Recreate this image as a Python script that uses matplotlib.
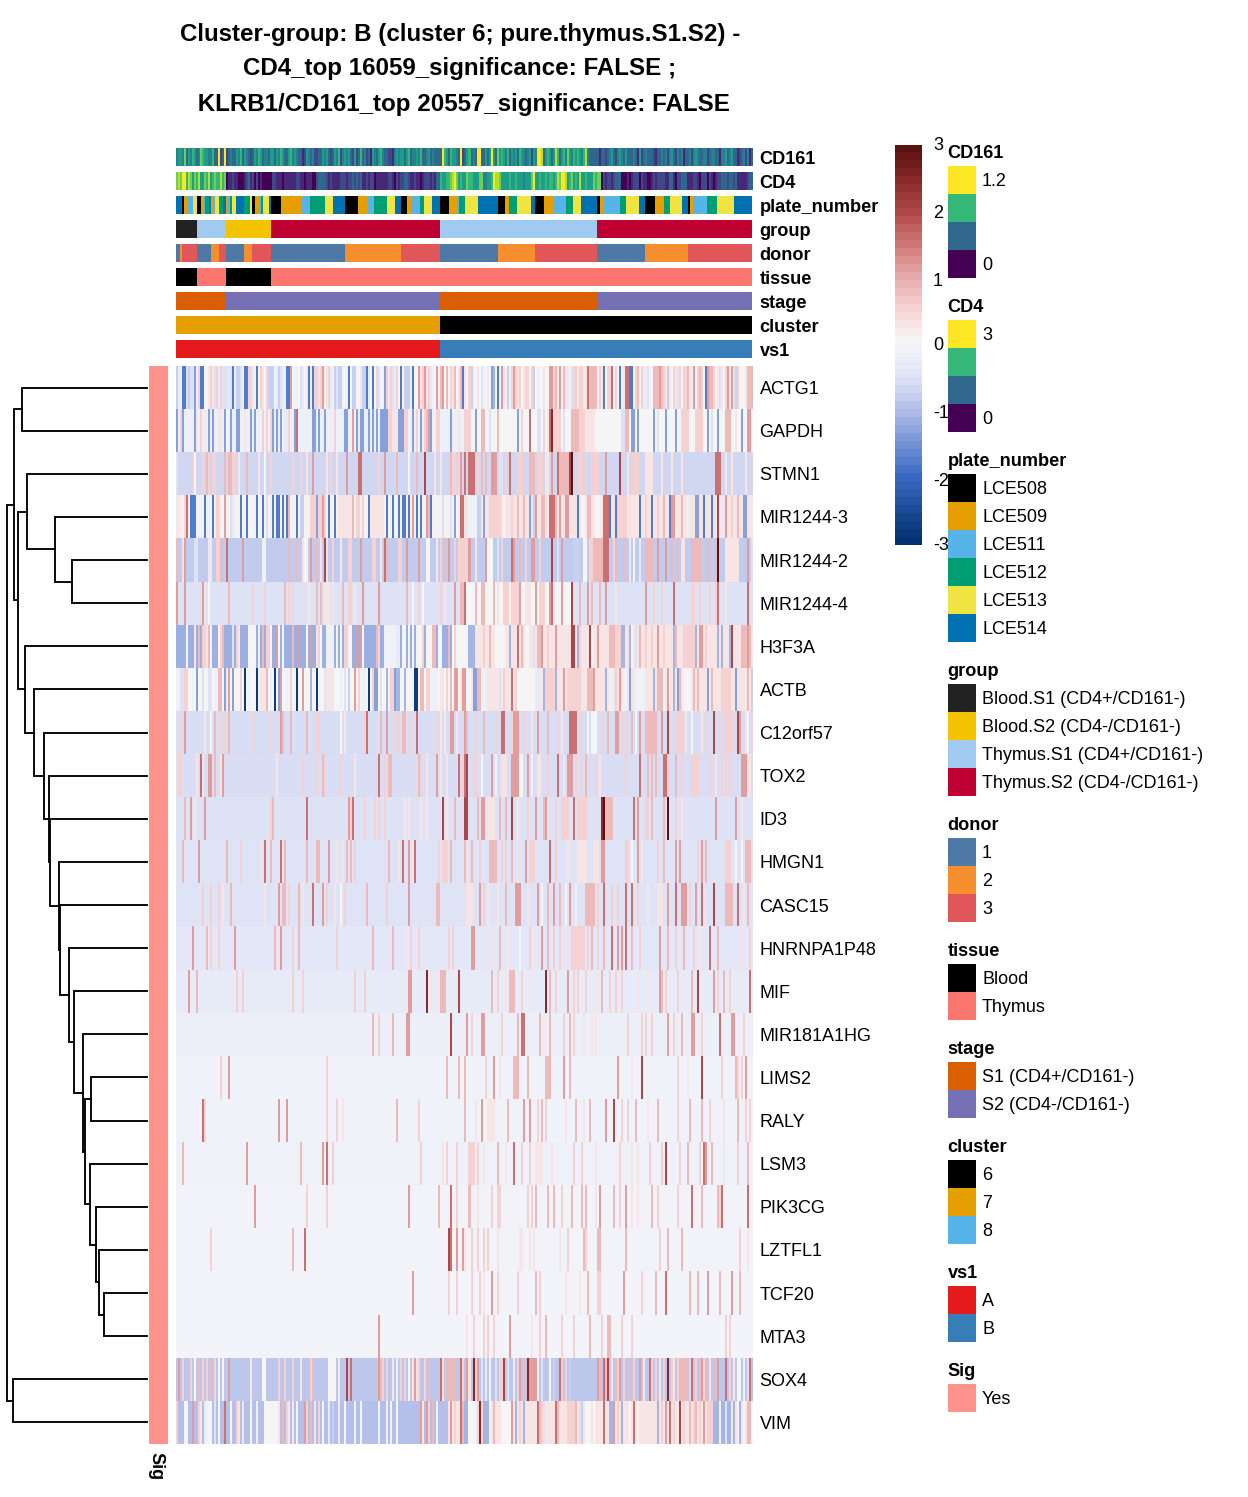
import numpy as np
import matplotlib; matplotlib.use('Agg')
import matplotlib.pyplot as plt
from matplotlib.colors import LinearSegmentedColormap
from matplotlib.patches import Rectangle

plt.rcParams['font.family'] = ['Liberation Sans', 'DejaVu Sans']

W, H = 1248, 1497
N_COLS = 288
TEXT_DY = 2  # va='center' sits a bit high against the reference

GENES = ['ACTG1', 'GAPDH', 'STMN1', 'MIR1244-3', 'MIR1244-2', 'MIR1244-4', 'H3F3A', 'ACTB',
         'C12orf57', 'TOX2', 'ID3', 'HMGN1', 'CASC15', 'HNRNPA1P48', 'MIF', 'MIR181A1HG',
         'LIMS2', 'RALY', 'LSM3', 'PIK3CG', 'LZTFL1', 'TCF20', 'MTA3', 'SOX4', 'VIM']

# background z-score of each row (what most cells of the row show)
GENE_BASE = [-0.15, -0.15, -0.65, 0.1, -0.8, -0.5, -1.15, 0.05, -0.58, -0.55, -0.5, -0.48, -0.48,
             -0.38, -0.32, -0.2, -0.1, -0.1, -0.14, -0.09, -0.09, -0.06, -0.05, -0.85, -0.95]

# shade codes used in the row tables below
LEVELS = dict(zip('0123456789abcdefg',
                  [-2.8, -1.8, -1.35, -1.1, -0.75, -0.5, -0.3, -0.12, 0.06, 0.3, 0.55, 0.85, 1.15, 1.6, 2.05, 2.5, 3.0]))

# cells, "col:shade", "from-to:shade" or "col>shades"
ACTG1 = ("0>46711545527a 12>11889a95a6a5 24>556517445711 36>aa9718a98a44 48>476456711c87 60>785689171aa9 "
         "72>ac89a6745447 84>871844889441 96>6818a5872a9a 108>56a818444718 120>8c9ac9a678c7 132>bc8b8a9b89b1 "
         "144>98a478985789 156>823817c9847a 168>ca9a89aa8a48 180>788988ccab9c 192>8b9675aa9aa9 204>9dbbbb8a918a "
         "216>ad8a8179dd11 228>8ab8a66578bb 240>bcba9498a95a 252>8aab96c8aba8 264>1cbba89598ac 276>9c54a8889bbb")
GAPDH = ("0:2 2:a 3:2 9:2 10:9 12:a 14:9 16:2 18:2 21:9 22:9 24:2 25:8 27:2 30:2 31:2 34:9 37:2 39:2 43:a 45:a 47:a 48:2 "
         "50:2 52:2 54-55:6 56:a 59:2 60:d 68:2 69:2 71:2 74:2 79:a 84:2 85:2 88:c 90:2 92:2 93:2 96:2 98:2 100:2 102-105:2 "
         "106-107:a 108-110:9 111-113:2 114-115:a 118:2 120:a 122:2 124:a 125:b 126:c 127:2 130-131:a 137:2 141:9 144-146:a "
         "147-287:8 149:2 152:b 153:b 156:5 160:b 170:2 172:a 176:d 180:5 181:5 183:a 185:9 186:d 187:f 188-191:a 193:5 "
         "197-200:b 201-203:a 204-208:9 222:5 223:5 224:b 225:b 227:2 228:2 230:2 238:2 240:5 244:2 249:2 252-255:a 259-262:a "
         "265:2 267:5 270:2 274-276:b 279:9 282:2 285-286:c")
STMN1 = ("0:5 8:a 9:8 13:a 15:b 16:a 18:a 19:a 24:b 26:b 27:b 28:a 29:a 31:9 35:b 41:9 44:8 47:a 58:a 62:a 65:9 68:c 75:9 77:a 80:9 "
         "85:c 91-92:d 101:a 104:c 110:b 116:8 120:b 124:e 129:9 132:9 137:b 138-139:a 141:a 142:c 144:d 146:d "
         "147-148:d 150:a 152:b 154:b 157-159:c 161-162:5 164:a 166:d 170-172:a 176-178:b 180-182:a 184-185:9 187:c 190:d "
         "191-195:b 196:e 197:g 200-202:a 204:a 207-210:a 214:c 221:e 225:9 227-230:a 234-237:9 242:9 247:9 252:9 269-271:d 274:9 277:9 284:9")
MIR1244_3 = ("0-1:9 2:7 4:a 5:d 7-9:1 11:7 14:1 15-17:7 18:1 20-21:a 24:c 27:5 28:6 32:1 35:1 37:8 40:1 43:1 45:5 48:1 50-51:1 53:1 55:1 56:b "
             "60:1 62-63:4 67-69:a 70:2 71-72:a 73:c 74:a 76:1 79:1 81-87:9 88:b 90-91:a 93:a 96:1 97-103:9 105:1 108:1 111:1 113-114:1 116:1 118:c "
             "120:1 122:1 125:c 126:b 127:1 130:7 133:5 137:5 139:2 142-143:d 144-287:9 146-149:7 150-151:4 153:2 156-161:a 163:8 167:a 170:b 173:b 176:2 "
             "178:4 179:c 182-183:b 186-188:d 189:b 191:c 194-195:c 200:1 202-203:8 205-206:b 209-211:8 213-215:d 216:1 219:1 220-224:a 231:1 234:a 237:1 "
             "240:a 243:b 246:1 247-248:c 252:b 255:7 259-260:2 263:1 267:1 270:e 271-272:6 274:c 277:a 280:b 283-284:2 287:9")
MIR1244_2 = ("0:b 3:9 4:c 9-10:5 16:9 17:6 20-21:a 22:b 25:d 33:c 43-44:7 56:b 60:b 63:9 64-65:8 67:c 70:b 72:9 74:e 75:9 78:a 82:9 86-87:a 92:c 98-99:a 102:9 "
             "104:d 105:b 111-112:a 115:c 121:c 125-126:8 130:9 132:a 134:b 136:c 139:a 141-146:a 146:c 149:9 154:c 155-157:8 160:5 162:a 167:d 168:c 171:b 174:a "
             "177-178:c 181:a 187:e 190:5 192:c 198-200:4 203-204:8 206-207:a 208-212:b 213-215:d 218:a 219:b 223:b 226:9 228:8 231:6 234-237:b 240:c 244:c 247:b "
             "250:b 252-253:9 257-261:b 265:b 269:b 270:g 274-280:9 285:c 287:5")
MIR1244_4 = ("0:c 4:c 13:c 14:9 16:8 26:b 38:a 44:a 54:b 56:a 58:a 66:9 70:b 72:b 74-76:9 78:9 83:b 86-87:a 89:9 93:c 101:c 115:b 118:8 121:a 123:8 132:a 134:9 "
             "139:c 142-143:b 144:d 146:a 145-197:8 149:b 152-153:b 158:b 160:9 163-165:a 167-170:a 171:c 174-176:9 179:c 181-183:a 186:c 187:d 188:9 192:c 197:e "
             "201:b 205:c 207:b 211:b 214:c 219:9 234:c 238:a 242:a 248:d 257-258:a 261:a 266:a 269:a 270:d 274:9 285:d")
H3F3A = ("5:8 9:9 11:b 13-14:a 15:9 16:b 17:8 21:8 22:a 23:b 28:5 30:a 31:9 36-39:8 41:7 43:b 45-46:a 47:8 50:c 51:8 53:8 58:b 61:c 65:8 67:c 70:9 71:a 72:8 75-78:7 "
         "80:8 82:8 84-85:a 86:7 87:8 90:c 92:c 93:8 100:b 101:a 104-109:7 110-111:6 113:8 114:8 116:8 118:8 120-122:8 123:a 125-127:8 128-129:b 131-132:8 136:b 138:8 "
         "139:a 140-146:8 147-287:9 146-148:3 153:a 156:b 159-163:8 166:3 170:d 172:b 174-175:8 176:9 178:5 180-181:b 182:c 185:a 189:c 192-193:9 197-198:e 199:9 200:3 "
         "201:a 204:9 206:e 207:8 210:c 216-218:b 219-221:a 222-223:3 226:3 227:8 229:5 231:b 234:a 237:a 240:c 243:a 248:3 249:b 253-258:a 259:3 261-262:c 264:a "
         "270:3 272:3 276:3 277:e 282-284:b 285:c 286:b")
ACTB = ("0-1:7 2-3:5 4-5:a 8:7 10:2 13:5 16-17:5 19-20:7 21-22:b 24:2 25:7 26:c 27:8 28:2 29-31:8 32:a 34:0 36:7 38:8 40:0 41:7 42-44:9 45:b 47:7 49:0 50:8 51:2 52:c "
        "55:7 57:a 60:0 63:c 67:3 70:0 74:5 75-78:9 82:7 84:5 86:4 89:c 91:a 93-94:7 96:0 98:a 99-100:2 102:5 105:3 107-108:a 109:2 110-111:3 114:3 119-120:0 122-123:b "
        "125-126:a 127-130:7 132-133:9 135:a 137:b 139-140:c 142:9 143:c 144:c 147-287:9 148-149:2 150-151:b 152-154:7 156-160:9 161:5 163:a 167:d 169:a 170-178:8 179-181:6 "
        "183:3 184-188:a 189:3 193:c 195-201:a 203:9 205-207:b 208:c 210-211:9 214:3 216-217:7 219:a 221:c 223-224:7 226:2 229-233:7 238:3 240-242:b 243:8 245:c 248:3 "
        "250:2 251:b 253-256:8 258:b 260:b 265:2 267:b 270:9 272-276:a 279:2 280-284:9 285:b 287:4")
C12ORF57 = ("2:a 4:c 14:9 17:8 19:b 22:a 24:a 26:b 38:a 47:a 52:c 53:b 57:b 65:b 70-71:a 82:8 84:9 94:a 95:d 102:b 105:c 109:a 111:a 113-114:b 117:a 120:d 130:a 132:9 134:9 "
            "137-138:c 140:9 144:c 145:b 149:a 153:b 159:a 162-163:d 167:a 168-170:c 173:a 177:9 180:c 185:b 190:a 192:9 196-199:d 201:a 205:8 207-209:8 212:a 215:b 219-220:c "
            "222:a 224:a 227:b 229:8 231:c 234-239:b 242:c 245:e 249-252:a 254:9 257:8 262:9 264:a 268:e 272:a 274-277:a 280:e 281:c 284:9 285:8 287:a")
TOX2 = ("1-2:a 10:9 12:d 13:9 16-17:c 19:b 22:9 23:c 50:9 63:a 70:a 73:b 74:a 82:a 89:9 101:d 104:a 106-107:b 121:b 122:a 125:9 130:c 132:9 135:9 141:d 143:a 144:d 145:e "
        "148-149:a 152:8 157:c 159:7 162-164:9 167-170:c 171-172:8 175:c 177:7 180-181:9 185:a 190:d 193:9 195-197:c 199:a 202:a 204:b 209:a 211:9 224:a 231:d 235:b 237:b 239:b "
        "243-244:d 245:a 249:b 252:a 257-260:a 266:a 269:9 272:a 274:a 276:a 282-284:c 285-286:9")
ID3 = ("4:b 7:c 9:9 14:c 47:a 48:b 65:d 86:c 87:a 88:d 94:a 99:a 101:a 104:a 114:9 116:9 122:9 125:9 133:e 135:9 139:b 144-145:e 150:b 152-153:c 155-158:9 161:b 164:b 167:e "
       "170:9 175:a 179:c 183:b 184:c 189:a 192-195:a 198:d 200-204:a 212:f 213:g 214-217:b 228:d 230:c 234:a 235:a 237:b 243:b 245:g 249:a 252:9 269:c 279:c 282:9")
HMGN1 = ("3:b 11:c 25:b 32:a 42:9 44:d 47:b 52:d 54:b 65:b 70-71:b 76:c 80:9 83:9 85:b 87:b 89:a 106:b 111:9 113:d 116:c 118:9 119:d 131:a 133-135:a 137:b 144:b 145:9 147:b 151:a "
         "156-159:b 162:a 164:a 167:b 170:9 174:c 176-178:a 186:d 189:a 195:9 200-204:9 208-210:9 212-213:c 224-225:a 227:8 230:c 232:9 240:a 243:b 249:c 251:c 260:a 262:c 264:b "
         "274-276:a 279:8 282:8 284-286:b")
CASC15 = ("13:a 17:a 21:a 23:9 27:b 44:9 51:c 53-54:b 56:a 61:b 63:9 68:d 73:c 75:a 79:9 82:8 84:a 95:b 105:a 116:c 130-131:b 145-147:9 151:c 153:a 155:9 160:9 164:b 169-171:c "
          "175:9 180:c 182:8 185:b 188:c 191:b 194:8 196:c 199:7 204-208:b 210:a 213:d 217:a 220:a 224:d 227:d 230:a 235:9 240-242:9 245:c 249:d 252-254:c 256:a 259:c 262:d 263:9 "
          "268:e 274-277:b 280:d 283:9 285:b")
HNRNPA1P48 = ("8:c 15:b 17:a 21:a 29:c 49:b 51:9 52:c 58:a 61:b 80:a 98:b 108:b 115:9 117:a 121:a 136:a 138:a 147-148:c 156:9 161:b 165:9 171:8 176:a 178:9 182:c 185:b 188:a 191:a "
              "194:9 197-203:a 205:a 207:b 210:a 213:b 217:d 220:c 222:c 224:d 227:b 231:a 241:c 245:b 249:a 253:b 258:a 261:9 266:d 270:b 282:9 286:a")
MIF = ("6:c 10:b 30:a 33:a 58:a 63:a 89:a 94:a 116:c 117:c 125:f 127:9 132-134:b 141:e 157:b 160:a 164:9 166-168:b 172:a 177:9 184:f 186:b 189:a 195:c 198:a 200:a 204:a 209:9 212:b "
       "216:a 219:a 222:a 230:9 235:9 241:c 242:b 244:a 250:a 257:b 260:e 268:c 270:a 273:b 276:a 286:d")
MIR181A1HG = ("98:b 101:a 108:b 115:c 116:c 137:e 145:c 147:a 152:c 153:c 162:a 170:b 172:d 173:d 181:b 183:9 186:b 193:a 196:b 198:a 203:9 207:9 209:9 225:a 232:a 234:a 237:a 245:c "
              "248:a 252:b 257:c 258:c 262:a 271:d 277:c 278:c 283:a")
LIMS2 = ("22:a 26:c 75:a 135:b 141:b 144:b 154:a 158:c 161:9 168-170:b 175:b 184-186:b 193:c 196:b 220:c 227:9 232:e 250:a 255:9 262:e 272:a 279:b 280:a 282:a 284:c")
RALY = ("13:d 14:a 51:c 55:c 75:a 80:a 83:9 110:b 121:a 144:b 149:9 152:c 155-158:9 165:b 173:c 176:c 180:a 182:b 184:a 194:9 199:b 203:9 206:b 214:c 218:e 222:a 225:a 229:b 235:9 240:b "
        "250:a 256:b 262:b 266:a 273:9 280:b 284:a 286:a")
LSM3 = ("3:b 35:c 62:b 73:c 75:d 78:a 122:a 133:9 135:a 140:a 146-148:a 150:a 153:9 160:b 164:9 168:d 172:a 176:a 179-182:9 187:9 198:a 202:a 209:9 221:a 227:9 230:9 236:a 242:a 244:e 251:a "
        "255:b 261:a 263:d 264:c 267:b 273:9 280:a 285:b")
PIK3CG = ("39:c 65:a 75:a 116:c 131:b 137:d 140:a 146:b 150:9 157:a 160-161:a 175:a 177:a 179:b 185:b 188:b 192:a 197:b 202:b 204:b 209:9 211:c 218:b 221:a 224:c 227:9 230:9 237:b 240:a "
          "250:a 257:d 262:b 270:b 271:a 272:d 285:d")
LZTFL1 = ("17:a 58:b 64:d 136:e 137:d 140:c 143:c 144:9 147:a 150:a 153:a 155:a 160:9 171:9 172:9 176:9 178:9 191:9 195:a 203:b 204:a 210:b 211:b 224:b 241:a 245:b 252:b 281:a 285:9")
TCF20 = ("118:c 136:a 140:a 147:a 151:a 153:9 157:c 160:a 170:a 179:b 181:a 194:9 201:9 205:b 210-211:a 223:c 232:a 239:b 244:d 256:b 260:b 265:c 271:b 277:c 281:b")
MTA3 = ("101:c 145:9 148:a 153:a 155:a 158:a 166:c 177:9 181:a 184:b 192:a 198:a 206:b 212:a 215-216:b 222:a 227:a 274:a 276:a")
SOX4 = ("1:c 3:a 7:a 9:8 11:b 13:a 15:a 17:b 19:a 21:8 23:8 26:c 37:9 43:8 44:8 51:a 54:a 58:a 62:9 67:a 68:b 76-79:8 81:9 85:e 87:d 101:c 102:b 103:a 105:a 108:9 110:7 112:a 114:a 116:8 118:9 "
        "119:c 120:9 121:a 124:a 126:b 132:d 133:9 134:b 136-139:b 142:d 143:a 145:c 146:9 148:f 149:a 150:c 152:5 154:6 156:7 159:5 161:a 162:a 163:e 165:5 168:6 170:a 171:c 173:b 175:f 176-179:c "
        "180:8 182:5 186:8 188:4 191:d 192:a 194:a 196:4 210:c 211:b 213:d 214:b 215:e 217:9 219:b 220:a 221:c 223:a 226:b 228:a 231:c 233:9 236:d 237:a 239:a 241:9 243:a 245:f 247:a 248:9 "
        "250:a 251-253:b 254:b 256:a 257:d 259:a 261:b 262:c 263:a 264:b 266:9 268:b 270:c 274:d 276:a 278:9 280:8 281:8 283:7 285:5 286:d")
VIM = ("0:a 4:8 5:8 8:c 11:a 12:9 14:6 15:7 16:8 17:8 19:5 21:8 24:d 27:8 30:a 31:9 33:9 37:8 40:7 44-50:8 51:9 53:b 55:a 56:9 58:9 60:8 64:c 65:a 67:b 69:9 71:a 73:8 76:6 78:4 81:9 84:8 89:7 92:8 101:7 "
       "105:7 107:8 110:8 122:c 123:9 125:c 126:a 128:b 130:8 136-287:9 137:c 139:a 142:d 143:b 144-145:3 146-148:8 149:7 150:a 151:f 152:a 153-155:3 156:8 158:b 161:9 162-166:8 167:c 169:3 171:a 173:3 175:9 "
       "178:9 180:d 181:b 182:a 183:5 185-187:9 189:d 190:b 193:9 195-197:a 198:a 199:b 201:5 202:4 204-206:8 208:8 211:9 213:d 214:9 216-217:3 218:c 220:a 222:3 226:8 228:d 230:8 234:9 237:9 240:3 242:a "
       "244:c 245:9 246:d 248:a 251:e 253:a 256:b 258:a 259:b 261:a 263:c 265-267:a 268-270:3 271:8 272-273:3 274:5 275-276:3 277:9 278:3 279:9 280:7 281:3 283:8 285-286:b 287:8")

ROW_CELLS = [ACTG1, GAPDH, STMN1, MIR1244_3, MIR1244_2, MIR1244_4, H3F3A, ACTB, C12ORF57, TOX2, ID3, HMGN1, CASC15,
             HNRNPA1P48, MIF, MIR181A1HG, LIMS2, RALY, LSM3, PIK3CG, LZTFL1, TCF20, MTA3, SOX4, VIM]

# viridis level per column, 0 dark to 9 yellow
CD161 = ("455473546534765544633923 923433546354323546534435 535465335645433125434223 354532354624545325236342 "
         "315435643322145455356344 546334534333396536554392 356343993353595375654635 453654345254998356535863 "
         "564754656546843333313323 453245435333431523433321 334342453243413342454334 423443314453453312342413")
CD4 = ("787996875768557685676686 701121100012312020100000 221110111111221101110023 333212111122212232323112 "
       "122011111122102122332112 110122212133655667897565 576655577445569887555565 565554555795565565665687 "
       "998567565855655576770212 212333000101222021100121 222211331022333111221022 202101223332332311111233")

# (run length in columns, category index)
PLATE_RUNS = [3, 1, 2, 2.5, 2, 2, 1, 1, 2, 1, 1, 1, 2, 2, 1.5, 1, 1, 1, 2, 4, 3, 1, 1.5, 2, 1, 1, 3, 1, 5, 10.5, 4, 7.5, 4, 6, 6.5, 5, 3, 6.5,
              4, 3, 3, 2, 4.5, 2, 4, 4, 4.5, 4, 1, 3, 6.5, 10, 3.5, 2, 4, 7, 2, 4.5, 5, 6, 3.5, 4, 8, 1.5, 2, 8, 3, 6.5, 3, 5, 4.5, 3, 6, 3, 1, 1.5, 7, 5, 8.5, 9]
PLATE_CATS = [5, 0, 1, 2, 4, 0, 1, 2, 3, 5, 1, 2, 4, 3, 5, 1, 2, 3, 4, 5, 3, 4, 0, 1, 2, 3, 4, 5, 0, 1, 2, 3, 4, 5, 0, 1, 2, 3,
              4, 5, 0, 1, 2, 3, 4, 5, 0, 1, 2, 3, 4, 5, 0, 1, 3, 4, 5, 0, 1, 2, 3, 4, 5, 0, 1, 2, 3, 4, 5, 0, 1, 3, 4, 5, 0, 1, 2, 3, 4, 5]
GROUP_RUNS = [10.5, 14.5, 22.5, 84.5, 78.5, 77.5]
GROUP_CATS = [0, 2, 1, 3, 2, 3]
DONOR_RUNS = [2, 1, 7.5, 7, 4, 3.5, 9, 4, 9.5, 37, 28, 19.5, 29, 18.5, 31, 24, 21.5, 32]
DONOR_CATS = [0, 1, 2, 0, 1, 2, 0, 1, 2, 0, 1, 2, 0, 1, 2, 0, 1, 2]
TISSUE_RUNS = [10.5, 14.5, 22.5, 240.5]
TISSUE_CATS = [0, 1, 0, 1]
STAGE_RUNS = [25, 107, 78.5, 77.5]
STAGE_CATS = [0, 1, 0, 1]
CLUSTER_RUNS = [132, 156]
CLUSTER_CATS = [1, 0]
VS1_RUNS = [132, 156]
VS1_CATS = [0, 1]

VIRIDIS4 = ['#FDE725', '#35B779', '#31688E', '#440154']
PLATE_COLS = ['#000000', '#E69F00', '#56B4E9', '#009E73', '#F0E442', '#0072B2']
GROUP_COLS = ['#222222', '#F3C300', '#A1CAF1', '#BE0032']
DONOR_COLS = ['#4E79A7', '#F58F2D', '#E15759']
TISSUE_COLS = ['#000000', '#FB766E']
STAGE_COLS = ['#D95F02', '#7570B3']
CLUSTER_COLS = ['#000000', '#E69F00', '#56B4E9']
VS1_COLS = ['#E41A1C', '#377EB8']
SIG_COL = '#FF928B'

PLATE_NAMES = ['LCE508', 'LCE509', 'LCE511', 'LCE512', 'LCE513', 'LCE514']
GROUP_NAMES = ['Blood.S1 (CD4+/CD161-)', 'Blood.S2 (CD4-/CD161-)', 'Thymus.S1 (CD4+/CD161-)', 'Thymus.S2 (CD4-/CD161-)']
DONOR_NAMES = ['1', '2', '3']
TISSUE_NAMES = ['Blood', 'Thymus']
STAGE_NAMES = ['S1 (CD4+/CD161-)', 'S2 (CD4-/CD161-)']
CLUSTER_NAMES = ['6', '7', '8']
VS1_NAMES = ['A', 'B']
SIG_NAMES = ['Yes']

# dendrogram merges: (child, child, x of the joint). Leaves are row numbers, joints count on from 25.
MERGES = [(21, 22, 104), (20, 25, 99.3), (19, 26, 96), (18, 27, 89.7), (16, 17, 91.3), (29, 28, 85), (15, 30, 83.3),
          (14, 31, 74), (13, 32, 69.3), (12, 33, 60.3), (11, 34, 59.3), (10, 35, 50.3), (9, 36, 49), (8, 37, 43.7),
          (7, 38, 33.7), (6, 39, 25), (4, 5, 72), (3, 41, 55), (2, 42, 27), (43, 40, 18.3), (0, 1, 22), (45, 44, 14),
          (23, 24, 12.7), (46, 47, 6.7)]

TITLE_LINES = ['Cluster-group: B (cluster 6; pure.thymus.S1.S2) -', 'CD4_top 16059_significance: FALSE ;',
               ' KLRB1/CD161_top 20557_significance: FALSE']

CMAP_NODES = [(-3, '#02316f'), (-2, '#3a6bc4'), (-1, '#b0bde8'), (-0.5, '#dfe3f6'), (-0.06, '#f3f4fa'), (0.06, '#f7f6f6'),
              (0.5, '#f8d6d6'), (1, '#e9aeae'), (1.5, '#d27c7c'), (2, '#b24a4a'), (2.5, '#8a2b2b'), (3, '#5a1212')]
heat_cmap = LinearSegmentedColormap.from_list('heat', [((v + 3) / 6, c) for v, c in CMAP_NODES], N=256)


def parse_row(cells, base):
    row = np.full(N_COLS, base, dtype=float)
    for tok in cells.split():
        if '>' in tok:
            start, codes = tok.split('>')
            for k, ch in enumerate(codes):
                row[int(start) + k] = LEVELS[ch]
        else:
            pos, ch = tok.split(':')
            lo, hi = (pos.split('-') + [pos])[:2]
            row[int(lo):int(hi) + 1] = LEVELS[ch]
    return row


fig = plt.figure(figsize=(W / 100, H / 100), dpi=100, facecolor='white')


def px_axes(x0, y0, x1, y1, **kw):
    ax = fig.add_axes([x0 / W, 1 - y1 / H, (x1 - x0) / W, (y1 - y0) / H], **kw)
    ax.set_axis_off()
    return ax


# canvas in pixels for text and legend keys
canvas = px_axes(0, 0, W, H, zorder=5)
canvas.set_xlim(0, W); canvas.set_ylim(H, 0)
canvas.patch.set_alpha(0)

# title
for y, line in zip([34, 68, 104], TITLE_LINES):
    canvas.text(460, y, line, ha='center', va='center', fontsize=17.4, fontweight='bold')

# main heatmap
HX0, HX1, HY0, HY1 = 176, 752, 366, 1444
matrix = np.vstack([parse_row(c, b) for c, b in zip(ROW_CELLS, GENE_BASE)])
ax = px_axes(HX0, HY0, HX1, HY1)
ax.imshow(matrix, cmap=heat_cmap, vmin=-3, vmax=3, aspect='auto', interpolation='nearest')
row_h = (HY1 - HY0) / len(GENES)
for i, g in enumerate(GENES):
    canvas.text(759.5, HY0 + row_h * (i + 0.5) + TEXT_DY, g, ha='left', va='center', fontsize=13)

# Sig strip
ax = px_axes(149, HY0, 168, HY1)
ax.add_patch(Rectangle((0, 0), 1, 1, color=SIG_COL, lw=0))
canvas.text(156, 1452, 'Sig', rotation=270, ha='center', va='top', fontsize=13, fontweight='bold')


# annotation tracks
def run_track(y, runs, cats, cols, label):
    ax = px_axes(HX0, y, HX1, y + 18)
    edges = np.concatenate([[0], np.cumsum(runs)])
    ax.set_xlim(0, edges[-1]); ax.set_ylim(0, 1)
    for j, c in enumerate(cats):
        ax.barh(0.5, edges[j + 1] - edges[j], left=edges[j], height=1, color=cols[c], lw=0)
    canvas.text(759.5, y + 9 + TEXT_DY, label, ha='left', va='center', fontsize=13.1, fontweight='bold')


def level_track(y, codes, label):
    vals = np.array([int(ch) for ch in codes.replace(' ', '')], dtype=float)
    ax = px_axes(HX0, y, HX1, y + 18)
    ax.imshow(vals[None, :], cmap='viridis', vmin=0, vmax=9, aspect='auto', interpolation='nearest')
    canvas.text(759.5, y + 9 + TEXT_DY, label, ha='left', va='center', fontsize=13.1, fontweight='bold')


level_track(148, CD161, 'CD161')
level_track(172, CD4, 'CD4')
run_track(196, PLATE_RUNS, PLATE_CATS, PLATE_COLS, 'plate_number')
run_track(220, GROUP_RUNS, GROUP_CATS, GROUP_COLS, 'group')
run_track(244, DONOR_RUNS, DONOR_CATS, DONOR_COLS, 'donor')
run_track(268, TISSUE_RUNS, TISSUE_CATS, TISSUE_COLS, 'tissue')
run_track(292, STAGE_RUNS, STAGE_CATS, STAGE_COLS, 'stage')
run_track(316, CLUSTER_RUNS, CLUSTER_CATS, CLUSTER_COLS, 'cluster')
run_track(340, VS1_RUNS, VS1_CATS, VS1_COLS, 'vs1')

# dendrogram
ax = px_axes(0, HY0, 148, HY1)
ax.set_xlim(0, 148); ax.set_ylim(len(GENES), 0)
pos = {i: (147.0, i + 0.5) for i in range(len(GENES))}
for n, (a, b, x) in enumerate(MERGES):
    xa, ya = pos[a]; xb, yb = pos[b]
    ax.plot([xa, x, x, xb], [ya, ya, yb, yb], color='black', lw=1.35, solid_joinstyle='miter')
    pos[25 + n] = (x, (ya + yb) / 2)

# colour scale
ax = px_axes(895, 145, 922, 545)
ax.imshow(np.linspace(3, -3, 50)[:, None], cmap=heat_cmap, vmin=-3, vmax=3, aspect='auto', interpolation='nearest')
for v, y in zip([3, 2, 1, 0, -1, -2, -3], [146, 214, 281, 346, 414, 481, 546]):
    canvas.text(933, y, str(v), ha='left', va='center', fontsize=13)


# legends
def legend(title, top, cols, labels, label_rows=None):
    canvas.text(947.5, top - 14 + TEXT_DY, title, ha='left', va='center', fontsize=13.1, fontweight='bold')
    for i, c in enumerate(cols):
        canvas.add_patch(Rectangle((948, top + 28 * i), 28, 28, color=c, lw=0, zorder=3))
    rows = label_rows if label_rows is not None else range(len(labels))
    for i, t in zip(rows, labels):
        canvas.text(982, top + 28 * i + 14 + TEXT_DY, t, ha='left', va='center', fontsize=13)


legend('CD161', 166, VIRIDIS4, ['1.2', '0'], [0, 3])
legend('CD4', 320, VIRIDIS4, ['3', '0'], [0, 3])
legend('plate_number', 474, PLATE_COLS, PLATE_NAMES)
legend('group', 684, GROUP_COLS, GROUP_NAMES)
legend('donor', 838, DONOR_COLS, DONOR_NAMES)
legend('tissue', 964, TISSUE_COLS, TISSUE_NAMES)
legend('stage', 1062, STAGE_COLS, STAGE_NAMES)
legend('cluster', 1160, CLUSTER_COLS, CLUSTER_NAMES)
legend('vs1', 1286, VS1_COLS, VS1_NAMES)
legend('Sig', 1384, [SIG_COL], SIG_NAMES)

fig.savefig('out.png', dpi=100, facecolor='white')
